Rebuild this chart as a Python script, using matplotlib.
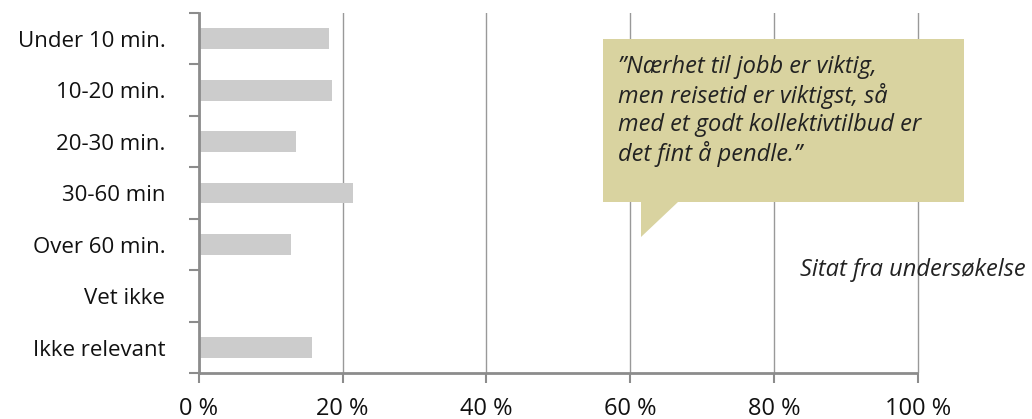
import matplotlib.pyplot as plt
from matplotlib.patches import Polygon
from matplotlib.ticker import FixedLocator

categories = ['Under 10 min.', '10-20 min.', '20-30 min.', '30-60 min',
              'Over 60 min.', 'Vet ikke', 'Ikke relevant']
values = [18.1, 18.5, 13.5, 21.4, 12.8, 0.0, 15.7]
xticks = [0, 20, 40, 60, 80, 100]
quote = ('\u201dNærhet til jobb er viktig,\nmen reisetid er viktigst, så\n'
         'med et godt kollektivtilbud er\ndet fint å pendle.\u201d')
source = 'Sitat fra undersøkelse'

plt.rcParams['font.family'] = ['Open Sans', 'DejaVu Sans']
W, H = 1032, 419
fig = plt.figure(figsize=(W / 100, H / 100), dpi=100)
# small margin past 100 so the last gridline is not clipped
ax = fig.add_axes([198.7 / W, 1 - 373.3 / H, (920 - 198.7) / W, (373.3 - 13) / H])

pos = list(range(len(categories)))
ax.barh(pos, values, height=0.4, color='#cccccc', zorder=2)
ax.set_ylim(len(categories) - 0.5, -0.5)
ax.set_xlim(0, 100 * (920 - 198.7) / (918 - 198.7))

grid = '#999999'
for s in ['top', 'right']:
    ax.spines[s].set_visible(False)
ax.spines['left'].set_color('#8c8c8c')
ax.spines['left'].set_linewidth(2)
ax.spines['left'].set_zorder(3)
ax.spines['bottom'].set_visible(False)
ax.plot([0, 100], [len(categories) - 0.5] * 2, color='#8c8c8c', lw=2,
        clip_on=False, zorder=3, solid_capstyle='butt')

ax.set_xticks(xticks)
ax.set_xticklabels([f'{t} %' for t in xticks])
ax.tick_params(axis='x', length=7, width=1.5, color='#8c8c8c', pad=10,
               labelsize=17, labelcolor='#111111')
ax.xaxis.grid(True, color=grid, linewidth=1, zorder=0)

ax.yaxis.set_major_locator(FixedLocator([p - 0.5 for p in pos] + [len(pos) - 0.5]))
ax.yaxis.set_major_formatter(plt.NullFormatter())
ax.yaxis.set_minor_locator(FixedLocator(pos))
ax.set_yticklabels(categories, minor=True)
ax.tick_params(axis='y', which='major', length=7, width=1.5, color='#8c8c8c')
ax.tick_params(axis='y', which='minor', length=0, pad=24, labelsize=16,
               labelcolor='#111111')

# callout bubble (figure pixel coords)
px = [(603, 39), (964, 39), (964, 202), (678, 202), (641, 237), (641, 202), (603, 202)]
bubble = Polygon([(x / W, 1 - y / H) for x, y in px], closed=True,
                 facecolor='#d9d3a0', edgecolor='none', transform=fig.transFigure,
                 zorder=5)
fig.patches.append(bubble)
fig.text(618 / W, 1 - 55 / H, quote, ha='left', va='top', fontsize=17,
         style='italic', color='#222222', linespacing=1.2, zorder=6)
fig.text(800 / W, 1 - 270 / H, source, ha='left', va='center', fontsize=17,
         style='italic', color='#222222')

fig.savefig('out.png', dpi=100)
